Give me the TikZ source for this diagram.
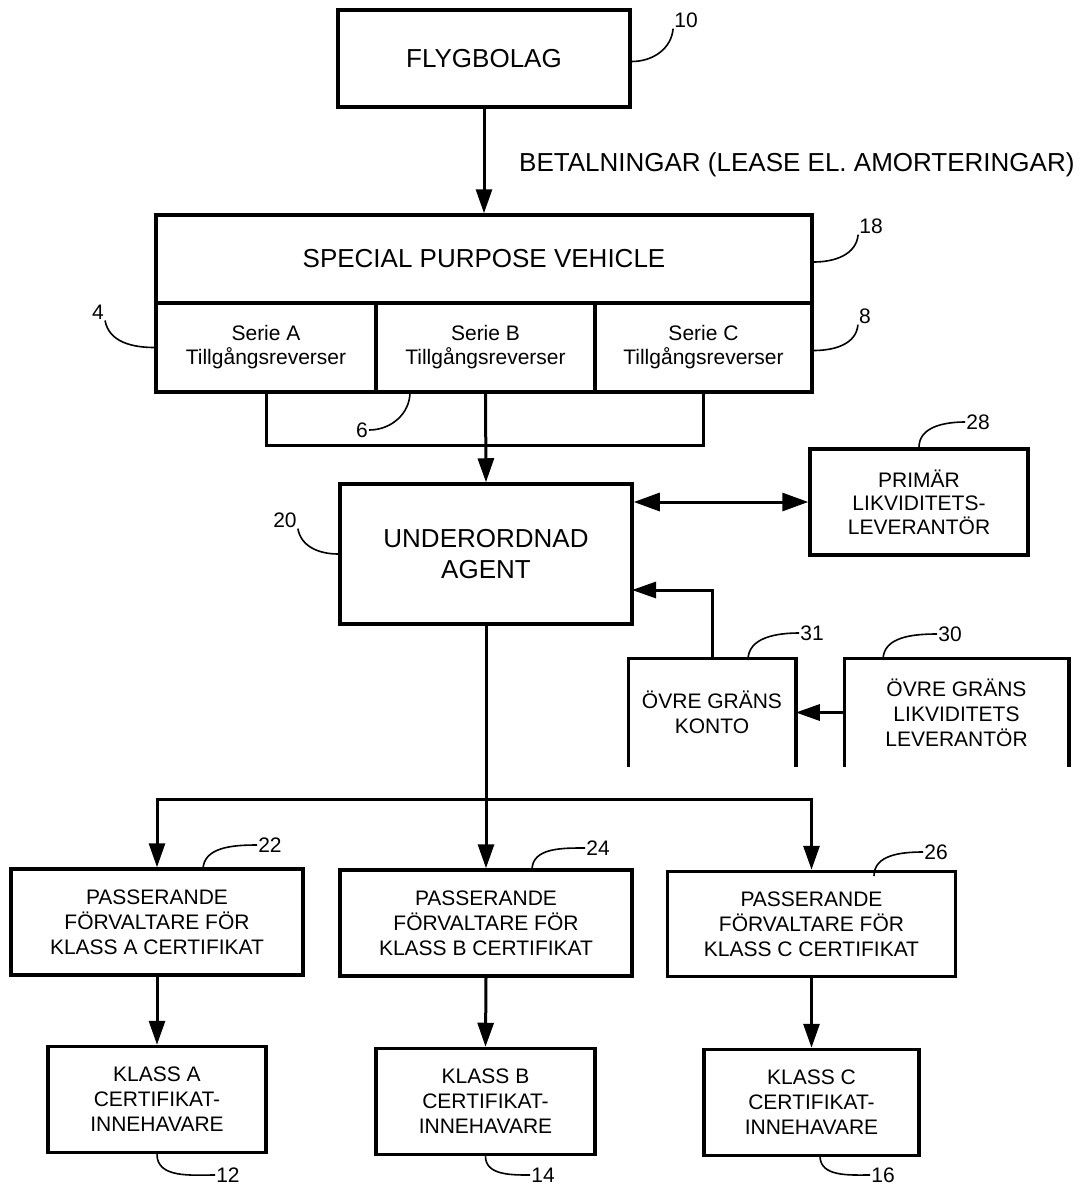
\documentclass[tikz,border=0pt]{standalone}
\usepackage{fontspec}
\setmainfont{Liberation Sans}
\usetikzlibrary{arrows.meta}
\begin{document}
\begin{tikzpicture}[x=1pt,y=-1pt,
box/.style={draw,line width=3.5pt,inner sep=0pt,align=center,font=\fontsize{21}{25}\selectfont},
bigbox/.style={box,font=\fontsize{26}{31}\selectfont},
openbox/.style={box,draw=none},
num/.style={inner sep=1pt,font=\fontsize{21}{21}\selectfont},
lead/.style={line width=1.6pt},
wire/.style={line width=3pt},
arr/.style={wire,-{Triangle[length=24pt,width=16pt]}},
darr/.style={wire,{Triangle[length=26pt,width=18pt]}-{Triangle[length=26pt,width=18pt]}}]
\useasboundingbox (0,0) rectangle (1088,1189);
\node[bigbox,minimum width=292pt,minimum height=97pt] (fly) at (484,58.5) {FLYGBOLAG};
\node[bigbox,minimum width=656pt,minimum height=88pt] (spv) at (484,259) {SPECIAL PURPOSE VEHICLE};
\node[box,minimum width=220pt,minimum height=89pt,font=\fontsize{21}{24}\selectfont] (serA) at (266,347.5) {Serie A\\Tillgångsreverser};
\node[box,minimum width=219pt,minimum height=89pt,font=\fontsize{21}{24}\selectfont] (serB) at (485.5,347.5) {Serie B\\Tillgångsreverser};
\node[box,minimum width=217pt,minimum height=89pt,font=\fontsize{21}{24}\selectfont] (serC) at (703.5,347.5) {Serie C\\Tillgångsreverser};
\node[bigbox,minimum width=292pt,minimum height=140pt] (agent) at (486,554) {UNDERORDNAD\\AGENT};
\node[box,minimum width=218pt,minimum height=106pt,font=\fontsize{21}{23.5}\selectfont] (prim) at (919,502) {PRIMÄR\\LIKVIDITETS-\\LEVERANTÖR};
\node[openbox,minimum width=164pt,minimum height=105pt] (konto) at (712,712.5) {ÖVRE GRÄNS\\KONTO};
\node[openbox,minimum width=221pt,minimum height=105pt] (lev) at (956.5,712.5) {ÖVRE GRÄNS\\LIKVIDITETS\\LEVERANTÖR};
\draw[line width=3.5pt] (konto.south west) |- (konto.north east) -- (konto.south east);
\draw[line width=3.5pt] (lev.south west) |- (lev.north east) -- (lev.south east);
\node[box,minimum width=292pt,minimum height=106pt] (passA) at (157,922) {PASSERANDE\\FÖRVALTARE FÖR\\KLASS A CERTIFIKAT};
\node[box,minimum width=292pt,minimum height=106pt] (passB) at (486,923) {PASSERANDE\\FÖRVALTARE FÖR\\KLASS B CERTIFIKAT};
\node[box,minimum width=288pt,minimum height=105pt] (passC) at (811.5,924) {PASSERANDE\\FÖRVALTARE FÖR\\KLASS C CERTIFIKAT};
\node[box,minimum width=218pt,minimum height=106pt] (klA) at (157,1099.5) {KLASS A\\CERTIFIKAT-\\INNEHAVARE};
\node[box,minimum width=219pt,minimum height=106pt] (klB) at (485.5,1101.5) {KLASS B\\CERTIFIKAT-\\INNEHAVARE};
\node[box,minimum width=215pt,minimum height=106pt] (klC) at (811.5,1102.5) {KLASS C\\CERTIFIKAT-\\INNEHAVARE};
\node[anchor=west,inner sep=0pt,font=\fontsize{26}{26}\selectfont] (bet) at (519,165) {BETALNINGAR (LEASE EL. AMORTERINGAR)};
% connectors
\draw[arr] (fly.south) -- (spv.north);
\draw[wire] (serA.south) -- (266,445) -| (serC.south);
\draw[arr] (serB.south) -- (agent.north);
\draw[darr] (agent.east |- prim.west) -- (prim.west);
\coordinate (kin) at (632,590);
\draw[arr] (konto.north) |- (kin);
\draw[arr] (lev.west) -- (konto.east);
\coordinate (split) at (486,799);
\draw[wire] (agent.south) -- (split);
\draw[arr] (split) -| (passA.north);
\draw[arr] (split) -- (passB.north);
\draw[arr] (split) -| (passC.north);
\draw[arr] (passA.south) -- (klA.north);
\draw[arr] (passB.south) -- (klB.north);
\draw[arr] (passC.south) -- (klC.north);
% reference numerals
\node[num] (l10) at (686,20) {10};
\node[num] (l18) at (871,226) {18};
\node[num] (l4) at (98,312) {4};
\node[num] (l8) at (865,316) {8};
\node[num] (l6) at (362,430) {6};
\node[num] (l20) at (285,520) {20};
\node[num] (l28) at (978,422) {28};
\node[num] (l31) at (812,633) {31};
\node[num] (l30) at (950,634) {30};
\node[num] (l22) at (270,845) {22};
\node[num] (l24) at (598,848) {24};
\node[num] (l26) at (936,852) {26};
\node[num] (l12) at (228,1175) {12};
\node[num] (l14) at (543,1175) {14};
\node[num] (l16) at (883,1175) {16};
\draw[lead] (fly.east) ++(0,3) to[out=0,in=-95] (l10.south west);
\draw[lead] (spv.east) ++(0,3) to[out=0,in=-95] (l18.south west);
\draw[lead] (serC.east) ++(0,3) to[out=0,in=-95] (l8.south west);
\draw[lead] (serA.west) to[out=180,in=-80] (l4.south east);
\draw[lead] (410,392) to[out=-90,in=0] (l6.east);
\draw[lead] (agent.west) to[out=180,in=-80] (l20.south east);
\draw[lead] (prim.north) to[out=90,in=180] (l28.west);
\draw[lead] (748,660) to[out=90,in=180] (l31.west);
\draw[lead] (883,660) to[out=90,in=180] (l30.west);
\draw[lead] (203,870) to[out=90,in=180] (l22.west);
\draw[lead] (532,870) to[out=90,in=180] (l24.west);
\draw[lead] (874,876) to[out=90,in=180] (l26.west);
\draw[lead] (klA.south) to[out=-90,in=180] (l12.west);
\draw[lead] (klB.south) to[out=-90,in=180] (l14.west);
\draw[lead] (820,1156) to[out=-90,in=180] (l16.west);
\end{tikzpicture}
\end{document}
